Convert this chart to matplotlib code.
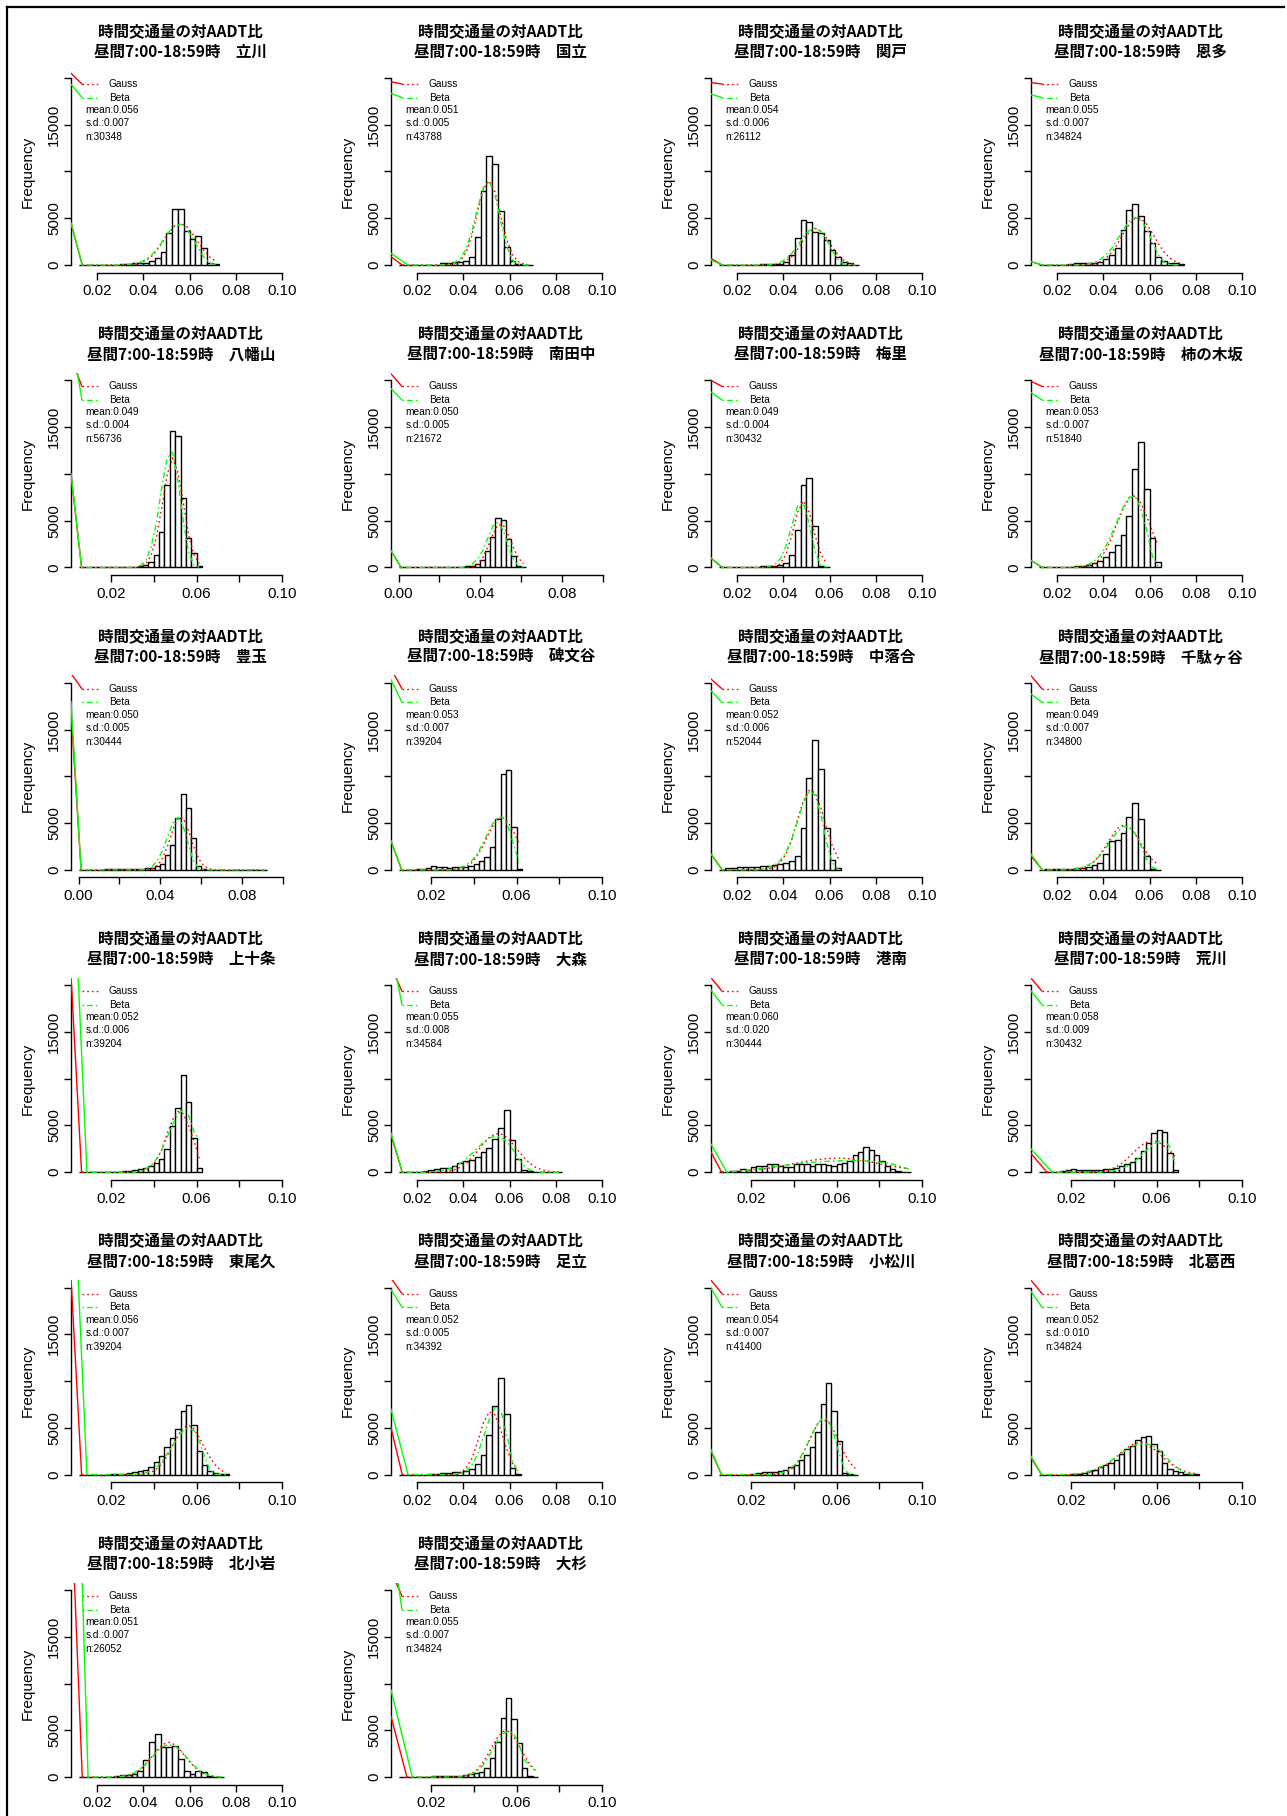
import numpy as np
import matplotlib
matplotlib.use("Agg")
import matplotlib.pyplot as plt
from matplotlib.lines import Line2D

# ---- station names and summary text ----
stations = ["立川", "国立", "関戸", "恩多", "八幡山", "南田中", "梅里", "柿の木坂",
            "豊玉", "碑文谷", "中落合", "千駄ヶ谷", "上十条", "大森", "港南", "荒川",
            "東尾久", "足立", "小松川", "北葛西", "北小岩", "大杉"]
means = ["0.056", "0.051", "0.054", "0.055", "0.049", "0.050", "0.049", "0.053",
         "0.050", "0.053", "0.052", "0.049", "0.052", "0.055", "0.060", "0.058",
         "0.056", "0.052", "0.054", "0.052", "0.051", "0.055"]
sds = ["0.007", "0.005", "0.006", "0.007", "0.004", "0.005", "0.004", "0.007",
       "0.005", "0.007", "0.006", "0.007", "0.006", "0.008", "0.020", "0.009",
       "0.007", "0.005", "0.007", "0.010", "0.007", "0.007"]
ns = [30348, 43788, 26112, 34824, 56736, 21672, 30432, 51840, 30444, 39204, 52044,
      34800, 39204, 34584, 30444, 30432, 39204, 34392, 41400, 34824, 26052, 34824]
# x axis kind of each panel (A: 0.02..0.10 all labels, B: 0.02/0.06/0.10, C: 0.00/0.04/0.08)
axis_kind = ["A", "A", "A", "A", "B", "C", "A", "A", "C", "B", "A", "A",
             "B", "A", "B", "B", "B", "A", "B", "B", "A", "B"]

# ---- histogram counts (bin width 0.0025) and fitted curves at bin mids ----
tachikawa_counts = [0,0,0,0,0,20,40,120,150,180,200,250,450,750,1350,3400,5950,5950,3600,2800,3100,1800,250,100]
tachikawa_gauss = [0,0,0,0,0,0,0,0,40,90,220,490,960,1700,2600,3500,4230,4450,4130,3340,2410,1530,850,410]
tachikawa_beta = [0,0,0,0,0,0,0,30,80,150,300,600,1100,1800,2700,3600,4200,4350,3900,2900,1800,800,200,30]

kunitachi_counts = [0,0,0,0,10,20,40,180,180,290,290,430,820,3000,7930,11680,10820,5790,1960,430,70,20,0]
kunitachi_gauss = [0,0,0,0,0,0,0,0,25,120,450,1350,3150,5730,8170,9000,7820,5190,2720,1100,350,85,20]
kunitachi_beta = [0,0,0,0,0,0,0,20,80,250,700,1700,3600,6100,8300,8900,7500,4600,2000,500,60,0,0]

sekido_counts = [0,0,0,0,0,30,50,60,80,100,150,350,1070,2850,4810,4630,3560,3390,2670,1600,890,360,180,40]
sekido_gauss = [0,0,0,0,0,0,0,0,0,50,160,410,900,1700,2660,3510,3900,3640,2850,1900,1040,490,190,60]
sekido_beta = [0,0,0,0,0,0,0,0,0,120,300,650,1250,2100,3000,3700,3950,3600,2700,1500,500,80,0,0]

onta_counts = [0,0,0,0,50,100,180,180,180,250,360,600,1070,1780,3740,5880,6520,5240,3640,2320,890,460,250,180,60]
onta_gauss = [0,0,0,0,0,0,0,0,50,140,350,740,1380,2310,3400,4370,4970,4970,4370,3400,2310,1380,740,350,140]
onta_beta = [0,0,0,0,0,0,0,0,150,300,600,1100,1800,2800,3800,4700,5100,4800,3900,2500,1100,300,50,0,0]

hachimanyama_counts = [0,0,0,0,0,0,0,20,30,50,70,140,250,610,1320,3750,8860,14540,14000,7430,3140,1540,180]
hachimanyama_gauss = [0,0,0,0,0,0,0,0,0,0,0,90,350,1300,3250,6400,9950,11700,10200,6960,3500,1400,400]
hachimanyama_beta = [0,0,0,0,0,0,0,0,0,0,0,200,700,2200,4800,8600,11700,12300,9300,5000,1600,250,30]

minamitanaka_counts = [0,0,0,0,0,0,0,0,0,0,20,30,50,100,200,400,800,1800,3300,5280,5100,3000,1200,200,50]
minamitanaka_gauss = [0,0,0,0,0,0,0,0,0,0,0,0,0,0,110,380,1030,2160,3520,4560,4560,3520,2160,1030,380]
minamitanaka_beta = [0,0,0,0,0,0,0,0,0,0,0,0,0,150,400,900,1800,3100,4400,4800,4000,2400,900,150,20]

umesato_counts = [0,0,0,0,0,50,80,120,150,200,280,500,1350,3960,8770,9550,4420,130,50]
umesato_gauss = [0,0,0,0,0,0,0,0,0,80,400,1400,3450,5900,7100,5900,3450,1400,400]
umesato_beta = [0,0,0,0,0,0,0,0,100,300,900,2300,4500,6600,6900,4600,1700,250,20]

kakinokizaka_counts = [0,0,0,0,0,50,100,150,250,450,700,1100,1600,2400,3500,5490,10520,13440,8400,3140,600]
kakinokizaka_gauss = [0,0,0,0,0,0,0,60,180,440,960,1870,3220,4860,6340,7470,7650,6880,5480,3830,2350]
kakinokizaka_beta = [0,0,0,0,0,0,0,150,350,700,1300,2300,3600,5100,6500,7500,7600,6300,4000,1200,100]

toyotama_counts = [0,0,0,0,0,50,80,100,100,100,100,100,120,150,200,430,600,1570,2640,5530,8090,6600,3390,430,60,20,10,10,5,5,0,0,0,0,0,0,0]
toyotama_gauss = [0,0,0,0,0,0,0,0,0,0,0,0,0,0,130,460,1250,2620,4280,5530,5530,4280,2620,1250,460,130,30,0,0,0,0,0,0,0,0,0,0]
toyotama_beta = [0,0,0,0,0,0,0,0,0,0,0,0,0,150,400,1000,2100,3600,5000,5600,4700,2800,1000,200,20,0,0,0,0,0,0,0,0,0,0,0,0]

himonya_counts = [0,0,0,50,100,200,400,350,250,200,250,300,350,430,600,890,1390,2390,5450,10230,10700,4600,100]
himonya_gauss = [0,0,0,0,0,0,0,0,0,0,45,130,320,700,1360,2340,3530,4610,5420,5560,5010,3990,2790]
himonya_beta = [0,0,0,0,0,0,0,0,0,0,100,250,500,900,1600,2600,3800,4900,5600,5600,4500,2600,700]

nakaochiai_counts = [0,150,200,250,250,300,350,400,450,500,600,700,900,1500,4460,9800,13900,10770,4420,1070,180]
nakaochiai_gauss = [0,0,0,0,0,0,0,30,100,300,790,1700,3230,5440,7400,8500,8240,6630,4450,2540,1220]
nakaochiai_beta = [0,0,0,0,0,0,0,100,250,500,1000,1900,3300,5200,7200,8400,8000,5900,2900,700,50]

sendagaya_counts = [0,50,100,100,100,120,150,150,250,500,780,1680,3030,3210,3890,5600,7100,5420,1500,70,20]
sendagaya_gauss = [0,0,0,0,0,0,70,200,440,910,1650,2590,3600,4450,4800,4560,3830,2790,1830,1060,530]
sendagaya_beta = [0,0,0,0,0,0,150,300,550,950,1550,2350,3300,4100,4650,4600,3900,2600,1100,250,30]

kamijujo_counts = [0,0,0,0,0,0,20,50,100,150,200,300,450,700,1030,1460,2460,4900,6920,10380,7520,3700,400]
kamijujo_gauss = [0,0,0,0,0,0,0,0,0,0,0,70,230,600,1290,2450,4120,5600,6500,6250,5020,3370,1500]
kamijujo_beta = [0,0,0,0,0,0,0,0,0,0,0,150,350,750,1400,2400,3700,5100,6200,6700,6100,4300,3500]

omori_counts = [0,0,20,50,100,210,320,430,500,700,1000,1200,1300,1650,2200,2600,3600,4700,6650,3400,1400,210,100,50,30,20,10,5]
omori_gauss = [0,0,0,0,0,0,0,50,120,270,530,950,1560,2290,3050,3720,4100,4100,3720,3050,2290,1560,950,530,270,120,50,20]
omori_beta = [0,0,0,0,0,0,100,200,350,600,950,1400,2000,2600,3200,3650,3850,3750,3300,2500,1500,700,250,60,10,0,0,0]

konan_counts = [0,0,100,100,320,250,540,680,680,860,860,680,540,540,860,860,860,710,860,860,790,680,860,1000,1250,1860,2200,2680,2390,1860,1250,710,320,180,70,20]
konan_gauss = [40,55,75,105,140,185,230,290,360,440,530,630,740,850,960,1070,1180,1280,1360,1420,1470,1500,1500,1480,1430,1370,1280,1190,1080,970,850,740,640,540,440,360]
konan_beta = [0,20,50,90,150,220,300,380,460,540,620,700,770,840,900,960,1010,1060,1100,1140,1170,1200,1220,1230,1240,1240,1230,1210,1180,1130,1060,970,850,700,530,330]

arakawa_counts = [0,0,0,50,100,200,300,250,200,200,200,250,320,390,500,680,860,1040,1570,2290,3100,4180,4540,4250,2100,200]
arakawa_gauss = [0,0,0,0,0,0,0,0,0,0,40,90,180,340,600,960,1440,1990,2540,3010,3300,3360,3160,2760,2210,1640]
arakawa_beta = [0,0,0,0,0,0,0,0,0,0,0,0,60,120,230,400,650,1000,1450,2000,2550,3000,3300,3300,2700,900]

higashiogu_counts = [0,0,0,0,0,0,30,60,100,150,250,350,500,800,1300,2000,3000,3900,4900,6770,7480,5300,2500,1070,430,180,60,20]
higashiogu_gauss = [0,0,0,0,0,0,0,0,0,0,0,30,100,250,580,1150,2010,3090,4200,5030,5300,4910,3970,2860,1830,1010,480,210]
higashiogu_beta = [0,0,0,0,0,0,0,0,0,0,0,80,200,420,800,1400,2200,3100,4000,4700,5000,4700,3600,1900,500,60,0,0]

adachi_counts = [0,0,0,0,0,50,100,150,200,250,300,400,600,1100,2100,4200,7300,10300,6500,700,30]
adachi_gauss = [0,0,0,0,0,0,0,0,0,50,200,680,1750,3500,5550,6720,6390,4740,2730,1230,430]
adachi_beta = [0,0,0,0,0,0,0,0,0,60,150,400,1000,2200,4000,5900,7200,6800,4300,1500,200]

komatsugawa_counts = [0,0,0,0,0,0,100,200,250,250,250,360,540,790,1070,1600,2100,2900,4570,7570,9820,6790,3570,180,20,0]
komatsugawa_gauss = [0,0,0,0,0,0,0,0,0,0,30,90,230,550,1120,2010,3180,4420,5460,5890,5600,4680,3400,2250,1270,650]
komatsugawa_beta = [0,0,0,0,0,0,0,0,0,0,60,160,360,700,1250,2100,3200,4400,5500,6100,5800,4300,2200,500,30,0]

kitakasai_counts = [0,0,0,0,0,0,20,100,200,360,540,790,1070,1250,1610,2210,2750,3040,3750,4000,4110,3320,2500,1250,640,430,250,100,50,20]
kitakasai_gauss = [0,0,0,0,0,0,30,60,120,230,390,640,980,1410,1910,2420,2880,3220,3390,3350,3100,2710,2220,1710,1230,840,540,320,180,95]
kitakasai_beta = [0,0,0,0,0,0,60,120,220,360,560,820,1130,1500,1900,2320,2700,3030,3250,3330,3250,3000,2600,2050,1450,900,470,190,50,10]

kitakoiwa_counts = [0,0,0,0,20,50,100,180,210,290,680,1820,3790,4570,3250,3250,3360,1890,680,290,640,500,100,30,10]
kitakoiwa_gauss = [0,0,0,0,0,0,0,70,180,410,800,1410,2160,2930,3520,3710,3440,2790,2000,1280,710,340,150,60,20]
kitakoiwa_beta = [0,0,0,0,0,0,0,100,230,450,850,1400,2100,2800,3300,3450,3300,2800,2100,1400,800,400,150,50,10]

osugi_counts = [0,0,0,0,0,30,80,140,140,140,140,140,210,290,390,570,930,2000,3790,6290,8430,6180,3610,930,140,20]
osugi_gauss = [0,0,0,0,0,0,0,0,0,0,0,50,140,340,730,1350,2270,3340,4290,4880,4880,4290,3340,2270,1350,730]
osugi_beta = [0,0,0,0,0,0,0,0,0,0,0,0,150,300,600,1100,1900,2900,3900,4650,4950,4600,3400,1800,1200,700]

# ---- steep solid lead-in lines at the left of each panel ----
red_low_start = [4490, 890, 710, 360, 10000, 1800, 1000, 750, 17000, 3100, 1680, 1500,
                 21000, 4000, 2140, 2000, 21000, 5000, 2500, 1790, 30000, 6460]
red_low_end = [0, 0, 0, 0, 0, 0, 0, 0, 0, 0, 0, 0, 0, 0, 0, 1, 0, 0, 0, 0, 0, 1]
green_low_start = [4490, 1250, 530, 360, 10000, 1800, 1000, 750, 18000, 3100, 1680, 1680,
                   38000, 4200, 3000, 2500, 38000, 7000, 2680, 1960, 61000, 9320]
green_low_end = [0, 1, 0, 0, 0, 0, 0, 0, 0, 0, 0, 0, 1, 0, 1, 2, 1, 1, 0, 0, 1, 2]
red_high_start = [20500, 19600, 19500, 19500, 22400, 20700, 20000, 19900, 21000, 21500, 20400, 20760,
                  None, 22000, 20800, 20760, None, 21000, 20800, 20800, None, 22030]
green_high_start = [19320, 18360, 18290, 18180, 24800, 19110, 18760, 18680, None, 20330, 19150, 18800,
                    None, 24000, 19480, 19380, None, 19770, 19950, 19600, None, 26000]

counts_all = [tachikawa_counts, kunitachi_counts, sekido_counts, onta_counts,
              hachimanyama_counts, minamitanaka_counts, umesato_counts, kakinokizaka_counts,
              toyotama_counts, himonya_counts, nakaochiai_counts, sendagaya_counts,
              kamijujo_counts, omori_counts, konan_counts, arakawa_counts,
              higashiogu_counts, adachi_counts, komatsugawa_counts, kitakasai_counts,
              kitakoiwa_counts, osugi_counts]
gauss_all = [tachikawa_gauss, kunitachi_gauss, sekido_gauss, onta_gauss,
             hachimanyama_gauss, minamitanaka_gauss, umesato_gauss, kakinokizaka_gauss,
             toyotama_gauss, himonya_gauss, nakaochiai_gauss, sendagaya_gauss,
             kamijujo_gauss, omori_gauss, konan_gauss, arakawa_gauss,
             higashiogu_gauss, adachi_gauss, komatsugawa_gauss, kitakasai_gauss,
             kitakoiwa_gauss, osugi_gauss]
beta_all = [tachikawa_beta, kunitachi_beta, sekido_beta, onta_beta,
            hachimanyama_beta, minamitanaka_beta, umesato_beta, kakinokizaka_beta,
            toyotama_beta, himonya_beta, nakaochiai_beta, sendagaya_beta,
            kamijujo_beta, omori_beta, konan_beta, arakawa_beta,
            higashiogu_beta, adachi_beta, komatsugawa_beta, kitakasai_beta,
            kitakoiwa_beta, osugi_beta]

BIN = 0.0025
KINDS = {
    "A": dict(xlim=(0.0089, 0.1035), start=0.0125,
              ticks=[0.02, 0.04, 0.06, 0.08, 0.10],
              labels=["0.02", "0.04", "0.06", "0.08", "0.10"]),
    "B": dict(xlim=(0.0013, 0.1039), start=0.005,
              ticks=[0.02, 0.04, 0.06, 0.08, 0.10],
              labels=["0.02", "", "0.06", "", "0.10"]),
    "C": dict(xlim=(-0.0037, 0.1039), start=0.0,
              ticks=[0.00, 0.02, 0.04, 0.06, 0.08, 0.10],
              labels=["0.00", "", "0.04", "", "0.08", ""]),
}

LATIN = ["Liberation Sans", "DejaVu Sans"]
JP = ["Noto Sans CJK JP", "DejaVu Sans"]
RED = "#FF0000"
GREEN = "#00FF00"
DOT = (0, (1.2, 2.2))
DASHDOT = (0, (1.2, 2.2, 4, 2.2))

W, H = 1287, 1816
fig = plt.figure(figsize=(W / 100, H / 100), dpi=100)
PW, PH = 219.5, 202.0
YLO, YHI = -800, 20800

for i, name in enumerate(stations):
    r, c = divmod(i, 4)
    left = 71 + 320 * c
    top = 70.5 + 302.4 * r
    ax = fig.add_axes([left / W, 1 - (top + PH) / H, PW / W, PH / H])
    kind = KINDS[axis_kind[i]]
    x0, x1 = kind["xlim"]
    ax.set_xlim(x0, x1)
    ax.set_ylim(YLO, YHI)

    counts = np.array(counts_all[i], dtype=float)
    edges = kind["start"] + BIN * np.arange(len(counts))
    mids = edges + BIN / 2
    ax.bar(edges, counts, width=BIN, align="edge", facecolor="white",
           edgecolor="black", linewidth=1.0, zorder=2)

    gs = red_low_end[i]
    bs = green_low_end[i]
    ax.plot(mids[gs:], np.array(gauss_all[i])[gs:], color=RED, lw=1.0, ls=DOT, zorder=3)
    ax.plot(mids[bs:], np.array(beta_all[i])[bs:], color=GREEN, lw=1.0, ls=DASHDOT, zorder=3)

    # solid lead-in lines
    ax.plot([x0, mids[gs]], [red_low_start[i], 0], color=RED, lw=1.0, zorder=4)
    ax.plot([x0, mids[bs]], [green_low_start[i], 0], color=GREEN, lw=1.0, zorder=4)
    span = x1 - x0
    leg_x = x0 + 0.05 * span
    red_leg_y = YLO + 0.9332 * (YHI - YLO)
    green_leg_y = YLO + 0.8663 * (YHI - YLO)
    if red_high_start[i] is not None:
        ax.plot([x0, leg_x], [red_high_start[i], red_leg_y], color=RED, lw=1.0, zorder=4)
    if green_high_start[i] is not None:
        ax.plot([x0, leg_x], [green_high_start[i], green_leg_y], color=GREEN, lw=1.0, zorder=4)

    # legend and summary
    ax.plot([0.05, 0.123], [0.9332, 0.9332], transform=ax.transAxes, color=RED, lw=1.0, ls=DOT)
    ax.plot([0.05, 0.123], [0.8663, 0.8663], transform=ax.transAxes, color=GREEN, lw=1.0, ls=DASHDOT)
    tk = dict(transform=ax.transAxes, fontsize=7.3, family=LATIN, va="center", ha="left")
    ax.text(0.173, 0.9332, "Gauss", **tk)
    ax.text(0.173, 0.8663, "Beta", **tk)
    ax.text(0.067, 0.8045, "mean:" + means[i], **tk)
    ax.text(0.067, 0.740, "s.d.:" + sds[i], **tk)
    ax.text(0.067, 0.671, "n:" + str(ns[i]), **tk)

    # axes in R style
    ax.spines["top"].set_visible(False)
    ax.spines["right"].set_visible(False)
    ax.spines["left"].set_bounds(0, 20000)
    ax.spines["bottom"].set_bounds(kind["ticks"][0], kind["ticks"][-1])
    for s in ("left", "bottom"):
        ax.spines[s].set_linewidth(1.0)
    ax.set_xticks(kind["ticks"])
    ax.set_xticklabels(kind["labels"], family=LATIN, fontsize=10.8)
    ax.set_yticks([0, 5000, 10000, 15000, 20000])
    ax.set_yticklabels(["0", "5000", "", "15000", ""], family=LATIN, fontsize=10.8,
                       rotation=90, va="center")
    ax.tick_params(axis="x", direction="out", length=5, width=1.0, pad=3.5)
    ax.tick_params(axis="y", direction="out", length=5, width=1.0, pad=2.0)
    ax.text(-43 / PW, 0.5, "Frequency", transform=ax.transAxes, rotation=90,
            ha="center", va="center", fontsize=11, family=LATIN)

    cx = (left + PW / 2) / W
    fig.text(cx, 1 - (top - 38.5) / H, "時間交通量の対AADT比", ha="center", va="center",
             fontsize=11.2, fontweight="bold", family=JP)
    fig.text(cx, 1 - (top - 18.5) / H, "昼間7:00-18:59時\u3000" + name, ha="center",
             va="center", fontsize=11.2, fontweight="bold", family=JP)

# outer frame (top and left edges)
fig.add_artist(Line2D([7 / W, 1284 / W], [1 - 7 / H, 1 - 7 / H], color="black", lw=1.6))
fig.add_artist(Line2D([7 / W, 7 / W], [1 - 7 / H, 0], color="black", lw=1.6))

fig.savefig("out.png", dpi=100)
